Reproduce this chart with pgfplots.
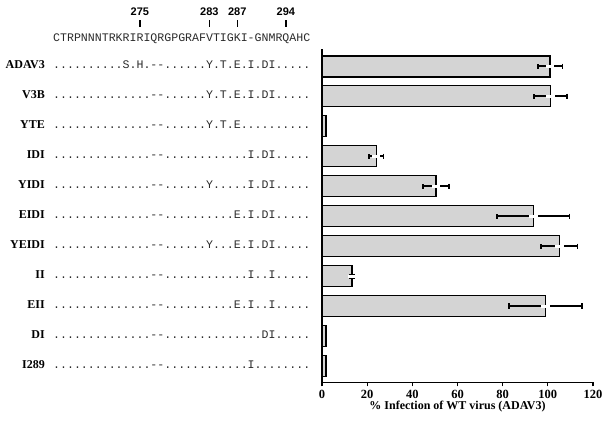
\documentclass[border=0pt]{standalone}
\usepackage{fontspec}
\setmainfont{Liberation Serif}
\newfontfamily\seqfont{Liberation Mono}
\newfontfamily\numfont{Liberation Sans}
\usepackage{pgfplots}
\usepackage{pgfplotstable}
\pgfplotsset{compat=1.18}
\definecolor{barfill}{HTML}{D4D4D4}
\definecolor{seqgray}{HTML}{2A2A2A}

% row: 1 = ADAV3 (top) ... 11 = I289 (bottom)
\pgfplotstableread{
row val err
1 101.0 5.5
2 101.2 7.2
4 24.0 3.2
5 50.4 5.8
6 93.6 16.0
7 105.1 8.0
8 13.3 1.0
9 98.9 16.2
}\witherr
\pgfplotstableread{
row val
3 1.8
10 1.8
11 1.8
}\noerr

\newcommand{\lab}{\fontsize{12}{14}\selectfont\bfseries}
\newcommand{\seq}{\fontsize{11.58}{14}\selectfont\seqfont\color{seqgray}}

\begin{document}
\begin{tikzpicture}
\useasboundingbox (0,0) rectangle (603pt,-421pt);
\begin{axis}[
  at={(322pt,-382.3pt)}, anchor=south west,
  scale only axis, width=271pt, height=333pt,
  xbar, bar width=21pt, bar shift=0pt,
  xmin=0, xmax=120, ymin=0.433, ymax=11.543, y dir=reverse,
  axis x line*=bottom, axis y line*=left,
  axis line style={line width=1.4pt},
  ytick=\empty,
  xtick={0,20,...,120},
  tick align=outside,
  major tick length=4pt,
  x tick style={line width=1.2pt, black},
  /pgf/number format/assume math mode=true,
  x tick label style={font=\fontsize{12.5}{14}\selectfont\bfseries},
  xlabel={\% Infection of WT virus (ADAV3)},
  xlabel style={font=\lab, yshift=4pt},
  clip=false,
]
\addplot[fill=barfill, draw=black, line width=1.4pt,
  error bars/.cd, x dir=both, x explicit, error mark=|,
  error bar style={line width=1.7pt, black},
  error mark options={line width=1.7pt, mark size=2.6pt, black}]
  table[x=val, y=row, x error=err] {\witherr};
\addplot[fill=barfill, draw=black, line width=1.4pt]
  table[x=val, y=row] {\noerr};
% white break in the error line on both sides of the bar end
\addplot[only marks, mark=-, mark size=4.2pt, mark options={white, line width=3pt}]
  table[x=val, y=row] {\witherr};
% redraw outlines over the breaks
\addplot[fill=none, draw=black, line width=1.4pt]
  table[x=val, y=row] {\witherr};
\end{axis}

% header: numbering and reference sequence
\foreach \n/\x in {275/139.9, 283/209.4, 287/237.2, 294/285.9} {
  \node[font=\fontsize{11}{13}\selectfont\numfont\bfseries, inner sep=0] at (\x pt,-12pt) {\n};
  \draw[line width=1.2pt] (\x pt,-20pt) -- (\x pt,-27pt);
}
\node[anchor=mid west, inner sep=0, font=\seq] at (53pt,-39pt) {CTRPNNNTRKRIRIQRGPGRAFVTIGKI-GNMRQAHC};

% row labels and aligned sequences
\foreach \name/\s [count=\i] in {
  ADAV3/{..........S.H.-{}-......Y.T.E.I.DI.....},
  V3B/{..............-{}-......Y.T.E.I.DI.....},
  YTE/{..............-{}-......Y.T.E..........},
  IDI/{..............-{}-............I.DI.....},
  YIDI/{..............-{}-......Y.....I.DI.....},
  EIDI/{..............-{}-..........E.I.DI.....},
  YEIDI/{..............-{}-......Y...E.I.DI.....},
  II/{..............-{}-............I..I.....},
  EII/{..............-{}-..........E.I..I.....},
  DI/{..............-{}-..............DI.....},
  I289/{..............-{}-............I........}} {
  \pgfmathsetmacro{\yy}{-(66+30*(\i-1))}
  \node[anchor=mid east, inner sep=0, font=\lab] at (45pt,\yy pt) {\name};
  \node[anchor=mid west, inner sep=0, font=\seq] at (53pt,\yy pt) {\s};
}
\end{tikzpicture}
\end{document}
